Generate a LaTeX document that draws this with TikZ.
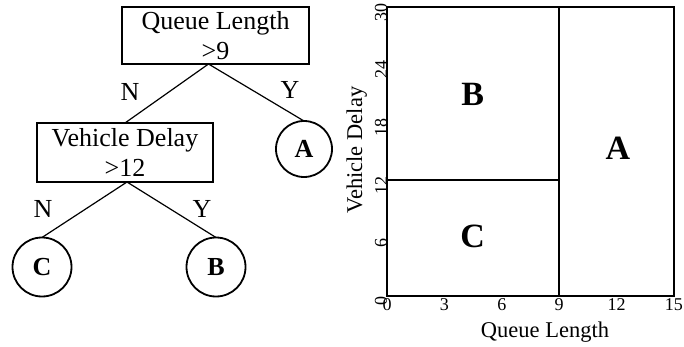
\documentclass[tikz,border=0pt]{standalone}
\usepackage{fontspec}
\setmainfont{Liberation Serif}
\begin{document}
\begin{tikzpicture}[x=1pt,y=-1pt,
 every node/.style={inner sep=0pt,outer sep=0pt},
 splitbox/.style={draw,line width=1.5pt,align=center,font=\fontsize{26}{30}\selectfont},
 leaf/.style={draw,circle,line width=1.8pt,minimum size=59pt,font=\fontsize{26}{28}\selectfont\bfseries},
 branch/.style={line width=1.2pt},
 edgelbl/.style={font=\fontsize{26}{28}\selectfont},
 ticklbl/.style={font=\fontsize{18}{20}\selectfont},
 axislbl/.style={font=\fontsize{22.5}{25}\selectfont},
 region/.style={font=\fontsize{34}{36}\selectfont\bfseries},
 frame/.style={line width=2pt}]
  \useasboundingbox (0,0) rectangle (684,347);
  % decision tree
  \node[splitbox,minimum width=187pt,minimum height=57pt] (qlen) at (215.5,35.5) {Queue Length\\>9};
  \node[splitbox,minimum width=176pt,minimum height=59pt] (vdelay) at (125,152.5) {Vehicle Delay\\>12};
  \node[leaf,minimum size=56pt] (leafA) at (304,149) {A};
  \node[leaf] (leafC) at (42,267) {C};
  \node[leaf] (leafB) at (216,267) {B};
  \draw[branch] ([xshift=-7pt]qlen.south) -- (vdelay.north);
  \draw[branch] ([xshift=-7pt]qlen.south) -- (leafA.north);
  \draw[branch] ([xshift=2pt]vdelay.south) -- (leafC.north);
  \draw[branch] ([xshift=2pt]vdelay.south) -- (leafB.north);
  \node[edgelbl] (n1) at (130,92) {N};
  \node[edgelbl] (y1) at (290,90) {Y};
  \node[edgelbl] (n2) at (43,209) {N};
  \node[edgelbl] (y2) at (202,209) {Y};
  % partition of the feature space
  \begin{scope}[shift={(387,296)},x=19.13pt,y=9.63pt]
    \draw[frame] (0,0) rectangle (15,30);
    \draw[frame] (9,0) -- (9,30);
    \draw[frame] (0,12) -- (9,12);
    \foreach \t in {0,3,...,15}{\node[ticklbl,anchor=north,yshift=-3pt] at (\t,0) {\t};}
    \foreach \t in {0,6,...,30}{\node[ticklbl,anchor=south,rotate=90,xshift=-5pt] at (0,\t) {\t};}
    \node[axislbl,anchor=base] (xlbl) at (8.26,-4.26) {Queue Length};
    \node[axislbl,anchor=base,rotate=90] (ylbl) at (-1.3,15.15) {Vehicle Delay};
    \node[region] (regB) at (4.48,20.9) {B};
    \node[region] (regC) at (4.48,6.15) {C};
    \node[region] (regA) at (12.07,15.35) {A};
  \end{scope}
\end{tikzpicture}
\end{document}
